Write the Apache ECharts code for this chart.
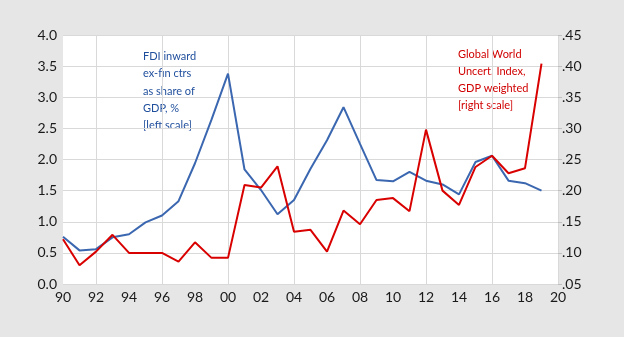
<!DOCTYPE html>
<html>
<head>
<meta charset="utf-8">
<style>
html,body{margin:0;padding:0;background:#E6E6E6;}
#c{width:624px;height:337px;}
</style>
<script src="https://cdn.jsdelivr.net/npm/echarts@6/dist/echarts.min.js"></script>
</head>
<body>
<div id="c"></div>
<script>
const years = [1990,1991,1992,1993,1994,1995,1996,1997,1998,1999,2000,2001,2002,2003,2004,2005,2006,2007,2008,2009,2010,2011,2012,2013,2014,2015,2016,2017,2018,2019,2020];
const fdi = [0.76,0.54,0.56,0.75,0.80,0.99,1.10,1.33,1.94,2.64,3.38,1.84,1.51,1.12,1.35,1.85,2.31,2.84,2.25,1.67,1.65,1.80,1.66,1.60,1.44,1.96,2.06,1.66,1.62,1.50,null];
const wui = [0.122,0.080,0.102,0.129,0.100,0.100,0.100,0.086,0.117,0.092,0.092,0.209,0.205,0.239,0.134,0.137,0.102,0.168,0.146,0.185,0.188,0.167,0.298,0.200,0.177,0.238,0.256,0.228,0.236,0.404,null];
const fdiNote = ['FDI inward','ex-fin ctrs','as share of','GDP, %','[left scale]'];
const wuiNote = ['Global World','Uncert. Index,','GDP weighted','[right scale]'];

const FONT = 'Lato';
const chart = echarts.init(document.getElementById('c'));
chart.setOption({
  animation:false,
  backgroundColor:'#E6E6E6',
  textStyle:{fontFamily:FONT},
  grid:{left:63,right:66,top:35,bottom:53,show:true,backgroundColor:'#FFFFFF',borderWidth:0},
  xAxis:{
    type:'category',data:years,boundaryGap:false,
    axisLine:{show:false},axisTick:{show:false},
    axisLabel:{interval:1,formatter:v=>String(v).slice(2),color:'#1a1a1a',fontSize:14,fontFamily:FONT,margin:6},
    splitLine:{show:true,interval:(i)=>i%4===2,lineStyle:{color:'#D9D9D9',width:1}}
  },
  yAxis:[
    {type:'value',min:0,max:4,interval:0.5,position:'left',
     axisLine:{show:false},axisTick:{show:false},
     axisLabel:{formatter:v=>v.toFixed(1),color:'#1a1a1a',fontSize:14,fontFamily:FONT,margin:6},
     splitLine:{show:true,lineStyle:{color:'#D9D9D9',width:1}}},
    {type:'value',min:0.05,max:0.45,interval:0.05,position:'right',
     axisLine:{show:false},axisTick:{show:true,length:4,lineStyle:{color:'#BFBFBF'}},
     axisLabel:{formatter:v=>v.toFixed(2).replace(/^0/,''),color:'#1a1a1a',fontSize:14,fontFamily:FONT,margin:4},
     splitLine:{show:false}}
  ],
  series:[
    {type:'line',name:'FDI',data:fdi,yAxisIndex:0,symbol:'none',lineStyle:{color:'#3B67B0',width:2},itemStyle:{color:'#3B67B0'}},
    {type:'line',name:'WUI',data:wui,yAxisIndex:1,symbol:'none',lineStyle:{color:'#D90000',width:2},itemStyle:{color:'#D90000'}}
  ],
  graphic:[
    {type:'text',left:143,top:48,style:{text:fdiNote.join('\n'),fill:'#1F4E9C',font:'11px '+FONT,lineHeight:17.3}},
    {type:'text',left:458,top:46,style:{text:wuiNote.join('\n'),fill:'#D00000',font:'11px '+FONT,lineHeight:17}}
  ]
});
</script>
</body>
</html>
